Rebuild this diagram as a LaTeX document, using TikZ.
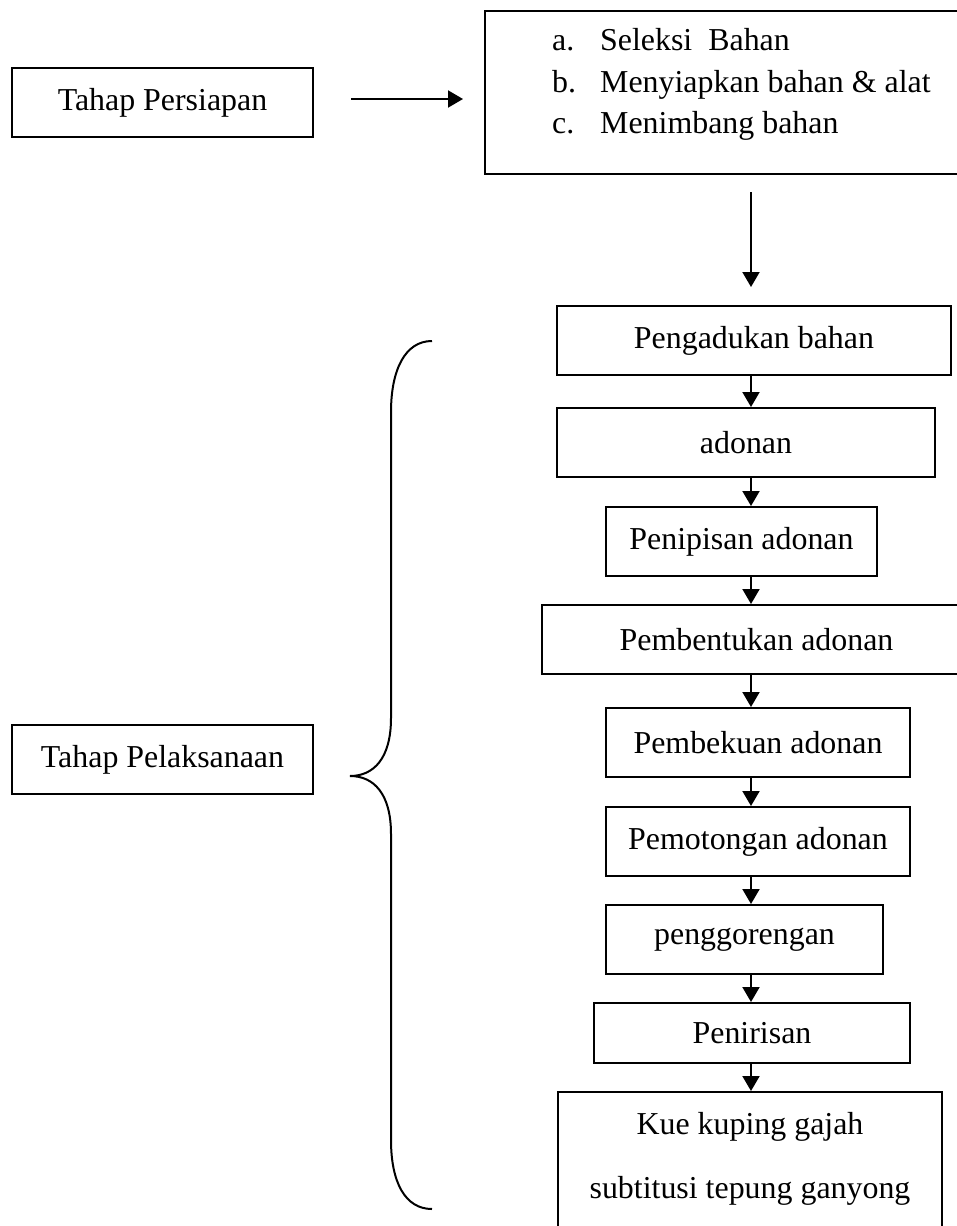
\documentclass[tikz,border=0pt]{standalone}
\usepackage{fontspec}
\setmainfont{Liberation Serif}
\usepackage{tikz}
\usetikzlibrary{arrows.meta}

\begin{document}
\begin{tikzpicture}[x=1pt, y=-1pt,
		kotak/.style={draw, line width=2pt, rectangle, inner sep=0pt, font=\fontsize{31.9}{38.3}\selectfont},
		teks/.style={inner sep=0pt, anchor=base west, font=\fontsize{31.9}{38.3}\selectfont},
		panah/.style={line width=2pt, -{Triangle[length=15pt, width=17pt]}}]
				\useasboundingbox (0,0) rectangle (957,1226);
				\clip (0,0) rectangle (957,1226);
				\coordinate (sumbu) at (751,0);
				% tahap persiapan
				\node[kotak, minimum width=301, minimum height=69] (persiapan) at (162.5,102.5) {Tahap Persiapan};
				\node[kotak, minimum width=520, minimum height=163, anchor=north west] (daftar) at (484,10) {};
				\foreach \huruf/\isi/\y [count=\i] in {a./Seleksi~ Bahan/50, b./Menyiapkan bahan \& alat/92, c./Menimbang bahan/133} {
					\node[teks] (huruf\i) at (552,\y) {\huruf};
					\node[teks] (isi\i) at (600,\y) {\isi};
				}
				\draw[panah, shorten <=37pt, shorten >=21pt] ([yshift=3.5pt]persiapan.east) -- ([yshift=3.5pt]persiapan.east -| daftar.west);
				% tahap pelaksanaan
				\node[kotak, minimum width=301, minimum height=69] (pelaksanaan) at (162.5,759.5) {Tahap Pelaksanaan};
				\foreach \nama/\x/\y/\w/\h/\isi in {pengadukan/754/340.5/394/69/Pengadukan bahan,
						adonan/746/442.5/378/69/adonan,
						penipisan/741.5/541.5/271/69/Penipisan adonan,
						pembentukan/756.5/639.5/429/69/Pembentukan adonan,
						pembekuan/758/742.5/304/69/Pembekuan adonan,
						pemotongan/758/841.5/304/69/Pemotongan adonan,
						penggorengan/744.5/939.5/277/69/penggorengan,
						penirisan/752/1033/316/60/Penirisan} {
					\node[kotak, minimum width=\w, minimum height=\h] (\nama) at (\x,\y) {\isi};
				}
				\node[kotak, minimum width=384, minimum height=190, align=center] (kue) at (750,1187) {Kue kuping gajah\\[25.7pt]subtitusi tepung ganyong\\[25.7pt]\mbox{}};
				\draw[panah, shorten <=17pt, shorten >=18pt] (daftar.south -| sumbu) -- (pengadukan.north -| sumbu);
				\foreach \a/\b in {pengadukan/adonan, adonan/penipisan, penipisan/pembentukan, pembentukan/pembekuan,
						pembekuan/pemotongan, pemotongan/penggorengan, penggorengan/penirisan, penirisan/kue} {
					\draw[panah] (\a.south -| sumbu) -- (\b.north -| sumbu);
				}
				% kurung kurawal
				\draw[line width=2pt] (432,341) .. controls (405,341) and (391,370) .. (391,412) -- (391,718)
					.. controls (391,758) and (374,776) .. (350,776)
					.. controls (374,776) and (391,794) .. (391,834) -- (391,1140)
					.. controls (391,1182) and (405,1209) .. (432,1209);
			\end{tikzpicture}
\end{document}
